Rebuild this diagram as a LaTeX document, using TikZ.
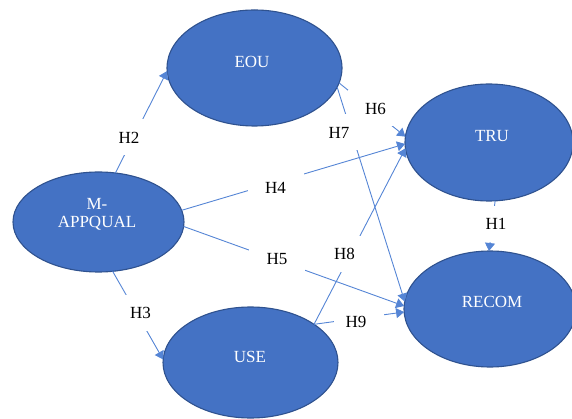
\documentclass[tikz,border=0pt]{standalone}
\usepackage{fontspec}
\setmainfont{Liberation Serif}
\usetikzlibrary{shapes.geometric,arrows.meta}
\definecolor{ellfill}{HTML}{4472C4}
\definecolor{ellline}{HTML}{2F528F}
\definecolor{connblue}{HTML}{5585D5}
\begin{document}
\begin{tikzpicture}[x=1pt,y=-1pt,
  ell/.style={ellipse, draw=ellline, line width=1.1pt, fill=ellfill, inner sep=0pt, outer sep=0pt},
  elltext/.style={text=white, font=\fontsize{17}{18}\selectfont, align=center, inner sep=0pt},
  connector/.style={draw=connblue, line width=0.9pt, -{Triangle[length=8pt,width=10pt]}},
  hlab/.style={fill=white, minimum width=56pt, minimum height=36pt, inner sep=0pt, font=\fontsize{17}{18}\selectfont, text=black}]
\useasboundingbox (0,0) rectangle (572,419);

% ellipses
\node[ell, minimum width=171pt, minimum height=100pt] (m) at (98.5,222) {};
\node[ell, minimum width=175pt, minimum height=116pt] (e) at (254.5,68) {};
\node[ell, minimum width=168pt, minimum height=117pt] (t) at (489,142.5) {};
\node[ell, minimum width=172pt, minimum height=116pt] (r) at (490,309) {};
\node[ell, minimum width=175pt, minimum height=111pt] (u) at (250.5,362.5) {};

% ellipse texts
\node[elltext] (mt) at (97,214) {M-\\APPQUAL};
\node[elltext] (et) at (252,62) {EOU};
\node[elltext] (tt) at (492,136) {TRU};
\node[elltext] (rt) at (492,302) {RECOM};
\node[elltext] (ut) at (250,357) {USE};

% connectors
\draw[connector] (m.71.7) -- (e.182);
\draw[connector] (m.-74.9) -- (u.178.3);
\draw[connector] (m.8.4) -- (t.181);
\draw[connector] (m.-3.2) -- (r.178.7);
\draw[connector] (e.-10.8) -- (t.176.9);
\draw[connector] (e.-13) -- (r.175.3);
\draw[connector] (u.31.6) -- (t.184.5);
\draw[connector] (u.31.6) -- (r.182);
\draw[connector] (t.-84) -- (r.91);

% labels
\node[hlab] (h1) at (496,224) {H1};
\node[hlab] (h2) at (129,137.5) {H2};
\node[hlab] (h3) at (140.5,313) {H3};
\node[hlab] (h4) at (275.5,187.5) {H4};
\node[hlab] (h5) at (277,259) {H5};
\node[hlab] (h6) at (375.5,108.5) {H6};
\node[hlab] (h7) at (339,132.5) {H7};
\node[hlab] (h8) at (344.5,254) {H8};
\node[hlab, minimum width=50pt, minimum height=34pt] (h9) at (359,321.5) {\makebox[0pt]{\hspace{-6pt}H9}};
\end{tikzpicture}
\end{document}
